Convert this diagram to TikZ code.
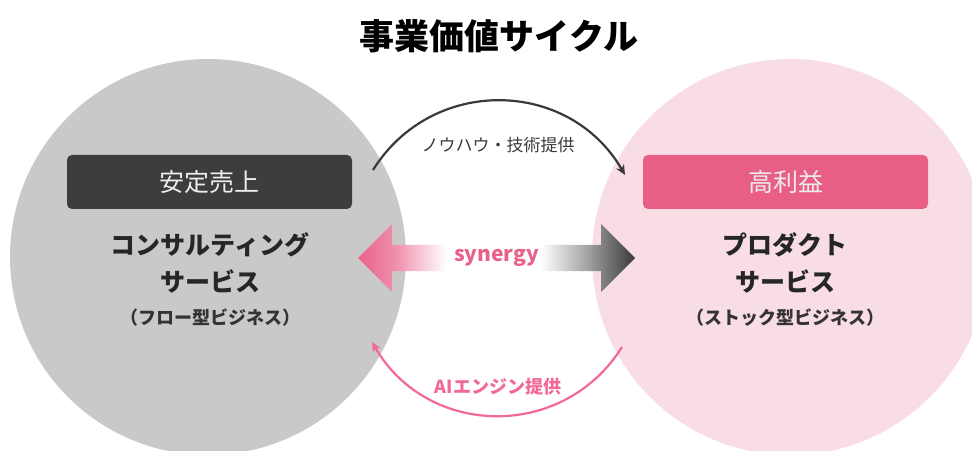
\documentclass[tikz,border=0pt]{standalone}
\usepackage{fontspec}
\setmainfont{Noto Sans CJK JP}
\usetikzlibrary{arrows.meta,shapes.arrows}
\definecolor{flowgray}{HTML}{C9C9C9}
\definecolor{stockpink}{HTML}{F9DDE5}
\definecolor{labeldark}{HTML}{3D3D3D}
\definecolor{labelpink}{HTML}{E85E85}
\definecolor{synpink}{HTML}{E8628A}
\definecolor{syndark}{HTML}{3A3A3A}
\definecolor{aipink}{HTML}{F2689A}
\pgfdeclarehorizontalshading{synshade}{100bp}{color(0bp)=(synpink); color(25bp)=(synpink); color(32bp)=(synpink!70!white); color(41bp)=(white); color(58bp)=(white); color(66bp)=(syndark!45!white); color(75bp)=(syndark); color(100bp)=(syndark)}
\tikzset{
  biz/.style={circle, minimum size=396pt, inner sep=0pt},
  biztag/.style={rounded corners=5pt, minimum width=285pt, minimum height=54pt, text=white!93!black, font=\fontsize{25}{25}\selectfont},
  bizname/.style={font=\bfseries\fontsize{25}{25}\selectfont, text=black!85},
  bizkind/.style={font=\bfseries\fontsize{18}{18}\selectfont, text=black!80},
  cyclearrow/.style={-{Stealth[length=10pt,width=9pt]}, line width=2.2pt, looseness=1.13},
}
\begin{document}
\begin{tikzpicture}[x=1pt,y=1pt]
  \useasboundingbox (0,0) rectangle (972,450);
  \clip (0,0) rectangle (972,450);
  \node[biz, fill=flowgray] (consult) at (208,193) {};
  \node[biz, fill=stockpink] (product) at (790,193) {};
  \node[font=\bfseries\fontsize{35}{35}\selectfont] (title) at (499,414) {事業価値サイクル};
  \node[biztag, fill=labeldark] (stable) at (209.5,268) {安定売上};
  \node[biztag, fill=labelpink] (profit) at (785.5,268) {高利益};
  \node[bizname] (consult1) at (210,205) {コンサルティング};
  \node[bizname] (consult2) at (210,168) {サービス};
  \node[bizkind] (consult3) at (210,132) {（フロー型ビジネス）};
  \node[bizname] (product1) at (785,205) {プロダクト};
  \node[bizname] (product2) at (785,168) {サービス};
  \node[bizkind] (product3) at (785,132) {（ストック型ビジネス）};
  \node[double arrow, double arrow head extend=14pt, minimum width=68pt, minimum height=277pt, inner sep=0pt, shading=synshade, text=synpink, font=\bfseries\fontsize{21}{21}\selectfont] (syn) at (496.5,192) {synergy};
  \coordinate (know-s) at (373,280);
  \coordinate (know-e) at (625,275);
  \coordinate (ai-s) at (622,103);
  \coordinate (ai-e) at (372,108);
  \begin{scope}[cyclearrow]
    \draw[draw=syndark] (know-s) to[out=58, in=120] (know-e);
    \draw[draw=aipink] (ai-s) to[out=-122, in=-60] (ai-e);
  \end{scope}
  \node[text=syndark, font=\fontsize{17}{17}\selectfont] (knowhow) at (498,305) {ノウハウ・技術提供};
  \node[text=aipink, font=\bfseries\fontsize{18}{18}\selectfont] (aiengine) at (498,63) {AIエンジン提供};
\end{tikzpicture}
\end{document}
